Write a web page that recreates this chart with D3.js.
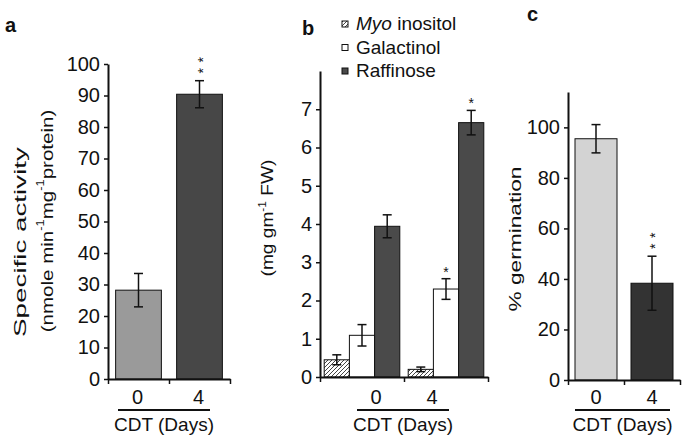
<!DOCTYPE html>
<html><head><meta charset="utf-8">
<script src="https://cdn.jsdelivr.net/npm/d3@7"></script>
<style>
body{margin:0;background:#fff}
svg{display:block}
text{font-family:"Liberation Sans",Arial,sans-serif;fill:#111}
</style>
</head><body>
<script>
// ---------- data ----------
const days = ["0", "4"];
const activity = [28.2, 90.4];
const activityErr = [5.3, 4.3];
const activitySig = ["", "**"];

const sugars = ["Myo inositol", "Galactinol", "Raffinose"];
const myoInositol = [0.45, 0.20];
const myoErr = [0.13, 0.06];
const galactinol = [1.09, 2.30];
const galErr = [0.28, 0.27];
const galSig = ["", "*"];
const raffinose = [3.94, 6.65];
const rafErr = [0.30, 0.32];
const rafSig = ["", "*"];

const germination = [95.5, 38.3];
const germErr = [5.6, 10.7];
const germSig = ["", "**"];

const ticksA = [0, 10, 20, 30, 40, 50, 60, 70, 80, 90, 100];
const ticksB = [0, 1, 2, 3, 4, 5, 6, 7];
const ticksC = [0, 20, 40, 60, 80, 100];
const xTitle = "CDT (Days)";

// ---------- setup ----------
const W = 685, H = 441;
const svg = d3.select("body").append("svg").attr("width", W).attr("height", H);
const defs = svg.append("defs");
const pat = defs.append("pattern").attr("id", "hatch").attr("patternUnits", "userSpaceOnUse")
  .attr("width", 4).attr("height", 4);
pat.append("rect").attr("width", 4).attr("height", 4).attr("fill", "#fff");
pat.append("path").attr("d", "M-1,1 l2,-2 M0,4 l4,-4 M3,5 l2,-2").attr("stroke", "#444").attr("stroke-width", 1);

function yAxis(x0, y, ticks) {
  const g = svg.append("g").attr("transform", `translate(${x0},0)`)
    .call(d3.axisLeft(y).tickValues(ticks).tickSize(4).tickPadding(4).tickSizeOuter(0));
  g.select(".domain").attr("stroke", "#111").attr("stroke-width", 2);
  g.selectAll(".tick line").attr("stroke", "#111").attr("stroke-width", 1.5);
  g.selectAll(".tick text").attr("font-size", 20).attr("fill", "#111")
    .attr("font-family", '"Liberation Sans",Arial,sans-serif');
  return g;
}
function xAxis(r0, r1, n, y0) {
  const lin = d3.scaleLinear().domain([0, n]).range([r0, r1]);
  const g = svg.append("g").attr("transform", `translate(0,${y0})`)
    .call(d3.axisBottom(lin).tickValues(d3.range(n + 1)).tickFormat("").tickSize(5).tickSizeOuter(0));
  g.select(".domain").attr("stroke", "#111").attr("stroke-width", 2);
  g.selectAll(".tick line").attr("stroke", "#111").attr("stroke-width", 1.5);
}
function errBar(cx, y, v, e) {
  const g = svg.append("g").attr("stroke", "#111").attr("stroke-width", 1.5);
  g.append("line").attr("x1", cx).attr("x2", cx).attr("y1", y(v - e)).attr("y2", y(v + e));
  g.append("line").attr("x1", cx - 4.5).attr("x2", cx + 4.5).attr("y1", y(v + e)).attr("y2", y(v + e));
  g.append("line").attr("x1", cx - 4.5).attr("x2", cx + 4.5).attr("y1", y(v - e)).attr("y2", y(v - e));
}
// significance asterisks: one text node; stacked vertically (rotated) when more than one
function stars(cx, yTop, s) {
  if (!s) return;
  const n = s.length;
  if (n === 1) {
    svg.append("text").attr("x", cx).attr("y", yTop - 10 + 8).attr("text-anchor", "middle")
      .attr("font-size", 14).attr("fill", "#555").text(s);
    return;
  }
  const gap = 11, adv = 14 * 0.389, ls = gap - adv;
  const midY = yTop - 10 - (n - 1) * gap / 2;
  svg.append("text").attr("text-anchor", "middle").attr("dominant-baseline", "central")
    .attr("font-size", 14).attr("fill", "#555").attr("letter-spacing", ls)
    .attr("x", ls / 2).attr("y", 0).attr("dy", 3)
    .attr("transform", `translate(${cx},${midY}) rotate(-90)`).text(s);
}
function xLabels(positions, lineX0, lineX1) {
  positions.forEach((px, i) => {
    svg.append("text").attr("x", px).attr("y", 404).attr("text-anchor", "middle")
      .attr("font-size", 20).text(days[i]);
  });
  svg.append("line").attr("x1", lineX0).attr("x2", lineX1).attr("y1", 410).attr("y2", 410)
    .attr("stroke", "#111").attr("stroke-width", 2);
  svg.append("text").attr("x", (lineX0 + lineX1) / 2).attr("y", 431).attr("text-anchor", "middle")
    .attr("font-size", 19).text(xTitle);
}
function rotTitle(cx, cy, len, build) {
  const t = svg.append("text").attr("text-anchor", "middle").attr("font-size", 16)
    .attr("dominant-baseline", "central");
  build(t);
  const w = t.node().getComputedTextLength();
  t.attr("transform", `translate(${cx},${cy}) rotate(-90) scale(${len / w},1)`);
}
function panelLetter(x, y, s) {
  svg.append("text").attr("x", x).attr("y", y).attr("font-size", 20).attr("font-weight", "bold").text(s);
}

// ---------- panel a ----------
{
  const y = d3.scaleLinear().domain([0, 100]).range([379, 64]);
  const x = d3.scaleBand().domain(days).range([108, 230]).paddingInner(0.25).paddingOuter(0.125);
  const colors = ["#9a9a9a", "#474747"];
  days.forEach((d, i) => {
    svg.append("rect").attr("x", x(d)).attr("y", y(activity[i])).attr("width", x.bandwidth())
      .attr("height", y(0) - y(activity[i])).attr("fill", colors[i]).attr("stroke", "#111").attr("stroke-width", 1);
    errBar(x(d) + x.bandwidth() / 2, y, activity[i], activityErr[i]);
    stars(x(d) + x.bandwidth() / 2, y(activity[i] + activityErr[i]), activitySig[i]);
  });
  yAxis(108, y, ticksA);
  xAxis(108, 230, 2, y(0));
  xLabels(days.map(d => x(d) + x.bandwidth() / 2 - 1), 118, 210);
  rotTitle(20, 242, 190, t => t.text("Specific activity"));
  rotTitle(47, 221, 223, t => {
    t.append("tspan").text("(nmole min");
    t.append("tspan").attr("font-size", 10).attr("dy", -6).text("-1");
    t.append("tspan").attr("dy", 6).text("mg");
    t.append("tspan").attr("font-size", 10).attr("dy", -6).text("-1");
    t.append("tspan").attr("dy", 6).text("protein)");
  });
  panelLetter(5, 32, "a");
}

// ---------- panel b ----------
{
  const y = d3.scaleLinear().domain([0, 8]).range([377, 71]);
  const x0 = d3.scaleBand().domain(days).range([320, 488]).paddingInner(0.1).paddingOuter(0.05);
  const x1 = d3.scaleBand().domain(sugars).range([0, x0.bandwidth()]);
  const series = [
    {name: sugars[0], v: myoInositol, e: myoErr, s: ["", ""], fill: "url(#hatch)"},
    {name: sugars[1], v: galactinol, e: galErr, s: galSig, fill: "#ffffff"},
    {name: sugars[2], v: raffinose, e: rafErr, s: rafSig, fill: "#4a4a4a"}
  ];
  days.forEach((d, i) => {
    series.forEach(sr => {
      const bx = x0(d) + x1(sr.name);
      svg.append("rect").attr("x", bx).attr("y", y(sr.v[i])).attr("width", x1.bandwidth())
        .attr("height", y(0) - y(sr.v[i])).attr("fill", sr.fill).attr("stroke", "#111").attr("stroke-width", 1);
      errBar(bx + x1.bandwidth() / 2, y, sr.v[i], sr.e[i]);
      stars(bx + x1.bandwidth() / 2, y(sr.v[i] + sr.e[i]), sr.s[i]);
    });
  });
  yAxis(320, y, ticksB);
  xAxis(320, 488, 2, y(0));
  const mid = (320 + 488) / 2;
  xLabels(days.map((d, i) => mid + (i - 0.5) * 56), 357, 449);
  rotTitle(268, 218, 117, t => {
    t.append("tspan").text("(mg gm");
    t.append("tspan").attr("font-size", 10).attr("dy", -6).text("-1");
    t.append("tspan").attr("dy", 6).text(" FW)");
  });
  panelLetter(302, 35, "b");
  // legend
  const lg = svg.append("g");
  series.forEach((sr, i) => {
    const base = 30 + i * 23.5;
    lg.append("rect").attr("x", 342).attr("y", base - 9).attr("width", 6).attr("height", 6)
      .attr("fill", sr.fill).attr("stroke", "#111").attr("stroke-width", 1);
    const t = lg.append("text").attr("x", 356).attr("y", base).attr("font-size", 19);
    if (i === 0) {
      t.append("tspan").attr("font-style", "italic").text("Myo");
      t.append("tspan").text(" inositol");
    } else t.text(sr.name);
  });
}

// ---------- panel c ----------
{
  const y = d3.scaleLinear().domain([0, 114]).range([380, 92]);
  const x = d3.scaleBand().domain(days).range([568, 680]).paddingInner(0.25).paddingOuter(0.125);
  const colors = ["#d3d3d3", "#333333"];
  days.forEach((d, i) => {
    svg.append("rect").attr("x", x(d)).attr("y", y(germination[i])).attr("width", x.bandwidth())
      .attr("height", y(0) - y(germination[i])).attr("fill", colors[i]).attr("stroke", "#111").attr("stroke-width", 1);
    errBar(x(d) + x.bandwidth() / 2, y, germination[i], germErr[i]);
    stars(x(d) + x.bandwidth() / 2, y(germination[i] + germErr[i]), germSig[i]);
  });
  yAxis(568, y, ticksC);
  xAxis(568, 680, 2, y(0));
  xLabels(days.map(d => x(d) + x.bandwidth() / 2), 575, 670);
  rotTitle(515, 239, 145, t => t.text("% germination"));
  panelLetter(527, 21, "c");
}
</script>
</body></html>
